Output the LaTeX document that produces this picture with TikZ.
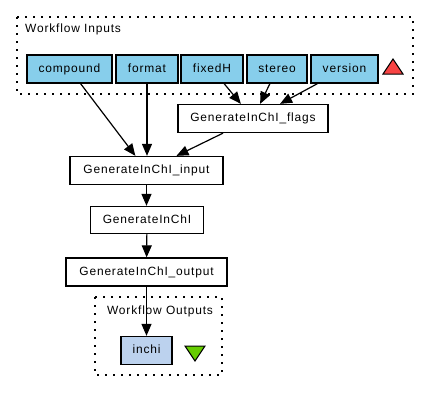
\documentclass[tikz,border=0pt]{standalone}
\usepackage{fontspec}
\setmainfont{Liberation Sans}[LetterSpace=7]
\usetikzlibrary{positioning, arrows.meta}
\definecolor{inblue}{HTML}{87CEEB}
\definecolor{outblue}{HTML}{BCD2EE}
\definecolor{inred}{HTML}{F84444}
\definecolor{outgreen}{HTML}{66CD00}
\tikzset{
>={Triangle[length=12bp,width=10bp]},
box/.style={draw=black, line width=1.3bp, minimum height=28bp, inner sep=0pt, text height=8.5bp, text depth=2.5bp, font=\fontsize{12}{14}\selectfont},
inport/.style={box, fill=inblue},
outport/.style={box, fill=outblue},
proc/.style={box, fill=white},
cluster/.style={draw=black, line width=1.6bp, dash pattern=on 1.6bp off 6.4bp},
link/.style={->, line width=1.2bp},
lbl/.style={font=\fontsize{12}{14}\selectfont, inner sep=0pt},
}
\begin{document}
\begin{tikzpicture}[x=1bp, y=-1bp]
    \useasboundingbox (0,0) rectangle (429,403);
    % clusters
    \draw[cluster] (17,17) rectangle (413,94);
    \node[lbl, anchor=west] (inlabel) at (25,29.5) {Workflow Inputs};
    \draw[cluster] (95,297) rectangle (222,375);
    \node[lbl] (outlabel) at (160,311.5) {Workflow Outputs};
    % inputs
    \node[inport, minimum width=85bp] (compound) at (69.5,69) {compound};
    \node[inport, minimum width=62bp] (format) at (147,69) {format};
    \node[inport, minimum width=62bp] (fixedH) at (212,69) {fixedH};
    \node[inport, minimum width=60bp] (stereo) at (277,69) {stereo};
    \node[inport, minimum width=67bp] (version) at (344.5,69) {version};
    \draw[fill=inred, line width=1bp] (383,74) -- (403,74) -- (393,59) -- cycle;
    % processors
    \node[proc, minimum width=150bp] (flags) at (253,118.5) {GenerateInChI\_flags};
    \node[proc, minimum width=153bp] (input) at (146.5,170.5) {GenerateInChI\_input};
    \node[proc, minimum width=113bp, minimum height=27bp] (gen) at (147,220) {GenerateInChI};
    \node[proc, minimum width=161bp] (output) at (146.5,272) {GenerateInChI\_output};
    % outputs
    \node[outport, minimum width=51bp] (inchi) at (146.5,350.5) {inchi};
    \draw[fill=outgreen, line width=1bp] (185,346) -- (205,346) -- (195,361) -- cycle;
    % links
    \draw[link] (compound) -- (input);
    \draw[link] (format.south) -- (format.south |- input.north);
    \draw[link] (fixedH) -- (flags);
    \draw[link] (stereo) -- (flags);
    \draw[link] (version) -- (flags);
    \draw[link] (flags) -- (input);
    \draw[link] (input.south) -- (input.south |- gen.north);
    \draw[link] (gen) -- (output);
    \draw[link] (output.south) -- (output.south |- inchi.north);
  \end{tikzpicture}
\end{document}
